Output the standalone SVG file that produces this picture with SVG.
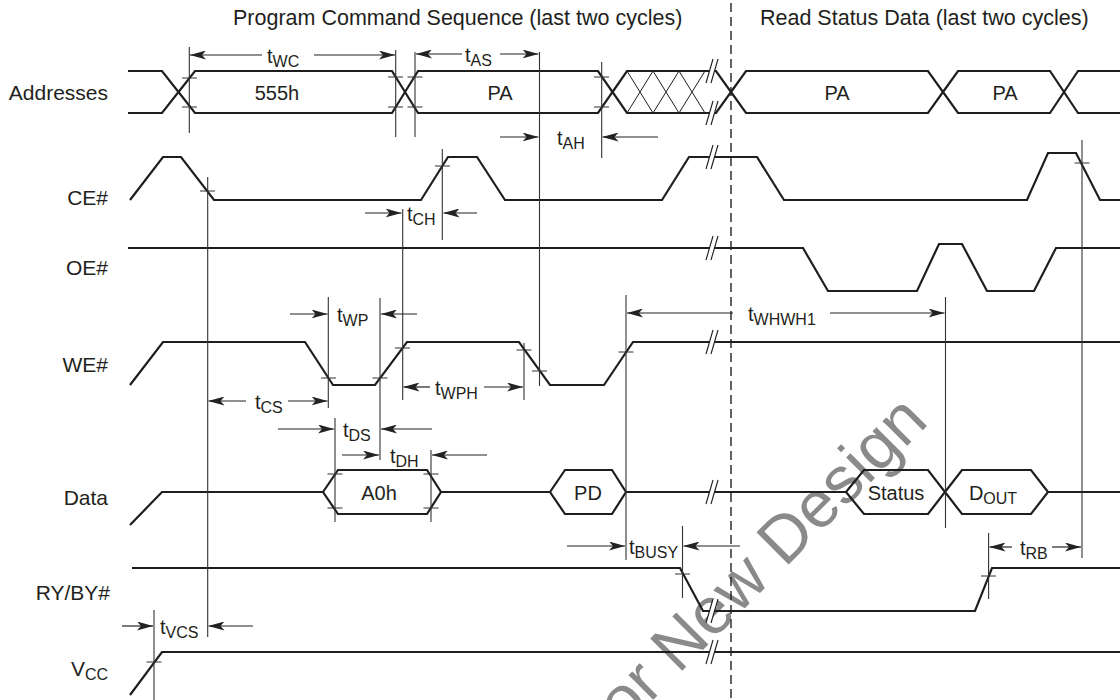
<svg xmlns="http://www.w3.org/2000/svg" width="1120" height="700" viewBox="0 0 1120 700">
<style>
.w{fill:none;stroke:#1e1e1e;stroke-width:2.2;stroke-linejoin:miter}
.g{fill:none;stroke:#333;stroke-width:1.1}
.h{fill:none;stroke:#1e1e1e;stroke-width:1}
.a{stroke:#222;stroke-width:1.2;marker-end:url(#ah)}
.br{fill:#fff;stroke:none}
.bs{stroke:#1e1e1e;stroke-width:1.1}
text{font-family:"Liberation Sans",Arial,Helvetica,sans-serif;fill:#231f20}
.ttl{font-size:21.5px}
.lbl{font-size:21px;text-anchor:end}
.v{font-size:20px;text-anchor:middle}
.t{font-size:20px}
.s{font-size:16px}
.wm{font-size:66px;fill:#8a8a8a}
</style>
<defs>
<marker id="ah" viewBox="0 0 16 9" refX="16" refY="4.5" markerWidth="16" markerHeight="9" markerUnits="userSpaceOnUse" orient="auto"><path d="M0,0 L16,4.5 L0,9 L4,4.5 Z" fill="#222"/></marker>
<g id="brk"><path class="br" d="M706,12 L713,-12 L718,-12 L711,12 Z"/><line class="bs" x1="706" y1="12" x2="713" y2="-12"/><line class="bs" x1="711" y1="12" x2="718" y2="-12"/></g>
</defs>
<rect width="1120" height="700" fill="#fff"/>
<text class="wm" transform="translate(624,729) rotate(-45)">or New Design</text>

<g id="titles">
<text class="ttl" x="233" y="25">Program Command Sequence (last two cycles)</text>
<text class="ttl" x="760" y="25">Read Status Data (last two cycles)</text>
</g>
<line x1="731" y1="3" x2="731" y2="700" stroke="#222" stroke-width="1.4" stroke-dasharray="9 5"/>

<g id="sig-addresses">
<text class="lbl" x="108" y="100">Addresses</text>
<path class="w" d="M128,71 H162 L178.5,92 L162,113 H128"/>
<path class="w" d="M178.5,92 L195,71 H392 L405,92 L392,113 H195 Z"/>
<path class="w" d="M405,92 L418,71 H598 L612.5,92 L598,113 H418 Z"/>
<path class="w" d="M612.5,92 L627,71 H716 L731,92 L716,113 H627 Z"/>
<path class="h" d="M627,71 L653,113 M653,71 L679,113 M679,71 L705,113 M627,113 L653,71 M653,113 L679,71 M679,113 L705,71"/>
<path class="w" d="M731,92 L746,71 H928 L943,92 L928,113 H746 Z"/>
<path class="w" d="M943,92 L958,71 H1050 L1064,92 L1050,113 H958 Z"/>
<path class="w" d="M1064,92 L1078,71 H1120 M1064,92 L1078,113 H1120"/>
<use href="#brk" y="71"/><use href="#brk" y="113"/>
<text class="v" x="277" y="100">555h</text>
<text class="v" x="500" y="100">PA</text>
<text class="v" x="837" y="100">PA</text>
<text class="v" x="1005" y="100">PA</text>
</g>

<g id="sig-ce">
<text class="lbl" x="108" y="205">CE#</text>
<path class="w" d="M130,200 L163,157 H181 L214,200 H421 L448,157 H477 L505,200 H662 L689,157 H757 L784,200 H1027 L1048,153 H1076 L1100,200 H1120"/>
<use href="#brk" y="157"/>
</g>

<g id="sig-oe">
<text class="lbl" x="108" y="275">OE#</text>
<path class="w" d="M128,248 H803 L828,291 H917 L939,244 H962 L987,291 H1034 L1056,248 H1120"/>
<use href="#brk" y="248"/>
</g>

<g id="sig-we">
<text class="lbl" x="108" y="372">WE#</text>
<path class="w" d="M130,385 L163,342 H305 L333,385 H375 L407,342 H519 L550,385 H604 L633,342 H1120"/>
<use href="#brk" y="342"/>
</g>

<g id="sig-data">
<text class="lbl" x="108" y="505">Data</text>
<path class="w" d="M130,525 L162,492 H323 M441,492 H550 M626,492 H846 M1048,492 H1120"/>
<path class="w" d="M323,492 L338,470 H427 L441,492 L427,514 H338 Z"/>
<path class="w" d="M550,492 L565,470 H612 L626,492 L612,514 H565 Z"/>
<path class="w" d="M846,492 L864,470 H928 L945,492 L928,514 H864 Z"/>
<path class="w" d="M945,492 L962,470 H1031 L1048,492 L1031,514 H962 Z"/>
<use href="#brk" y="492"/>
<text class="v" x="379" y="500">A0h</text>
<text class="v" x="588" y="500">PD</text>
<text class="v" x="896" y="500">Status</text>
<text class="v" x="993" y="500">D<tspan class="s" dy="4">OUT</tspan></text>
</g>

<g id="sig-rb">
<text class="lbl" x="110" y="600">RY/BY#</text>
<path class="w" d="M132,568 H680 L703,611 H975 L992,568 H1120"/>
<use href="#brk" y="611"/>
</g>

<g id="sig-vcc">
<text class="lbl" x="108" y="676">V<tspan class="s" dy="4">CC</tspan></text>
<path class="w" d="M130,695 L162,652 H1120"/>
<use href="#brk" y="652"/>
</g>

<g id="connectors">
<path class="g" d="M189.3,47 V133 M395.7,50 V137 M415,52 V137 M539.5,52 V386 M601.7,62 V158 M207.7,177 V637 M402.7,209 V400 M442.3,149 V240 M328.3,297 V408 M380,298 V460 M335,418 V522 M431,450 V522 M524,343 V400 M626,295 V560 M945.5,297 V528 M1082,140 V558 M682.5,526 V598 M988.6,533 V599 M154,610 V700"/>
<path class="g" d="M182,78 h15 M182,107 h15 M388,77 h15 M388,107 h15 M407.5,77 h15 M407.5,107 h15 M594,77 h15 M594,107 h15 M200,191 h15 M435,166 h15 M1074.5,163 h15 M321,378 h15 M372.5,378 h15 M395,348 h15 M516.5,350 h15 M532,371 h15 M618.5,352 h15 M327.5,474 h15 M327.5,508 h15 M423.5,474 h15 M423.5,508 h15 M675,574 h15 M981,576 h15 M146.5,662 h15"/>
<line class="a" x1="262" y1="55" x2="190" y2="55"/><line class="a" x1="314" y1="55" x2="395" y2="55"/>
<text class="t" x="267" y="63">t<tspan class="s" dy="4">WC</tspan></text>
<line class="a" x1="462" y1="54" x2="416" y2="54"/><line class="a" x1="500" y1="54" x2="538.5" y2="54"/>
<text class="t" x="465" y="62">t<tspan class="s" dy="4">AS</tspan></text>
<line class="a" x1="500" y1="137" x2="538.5" y2="137"/><line class="a" x1="658" y1="137" x2="602.5" y2="137"/>
<text class="t" x="557" y="145">t<tspan class="s" dy="4">AH</tspan></text>
<line class="a" x1="365" y1="213" x2="401.5" y2="213"/><line class="a" x1="477" y1="213" x2="443.5" y2="213"/>
<text class="t" x="407" y="221">t<tspan class="s" dy="4">CH</tspan></text>
<line class="a" x1="290" y1="314" x2="327.5" y2="314"/><line class="a" x1="417" y1="314" x2="381" y2="314"/>
<text class="t" x="337" y="322">t<tspan class="s" dy="4">WP</tspan></text>
<line class="a" x1="733" y1="313" x2="627" y2="313"/><line class="a" x1="830" y1="313" x2="944.5" y2="313"/>
<text class="t" x="748" y="321">t<tspan class="s" dy="4">WHWH1</tspan></text>
<line class="a" x1="246" y1="401" x2="208.5" y2="401"/><line class="a" x1="288" y1="401" x2="327.5" y2="401"/>
<text class="t" x="255" y="409">t<tspan class="s" dy="4">CS</tspan></text>
<line class="a" x1="430" y1="387" x2="403.5" y2="387"/><line class="a" x1="484" y1="387" x2="523" y2="387"/>
<text class="t" x="435" y="395">t<tspan class="s" dy="4">WPH</tspan></text>
<line class="a" x1="278" y1="429" x2="334" y2="429"/><line class="a" x1="432" y1="429" x2="381" y2="429"/>
<text class="t" x="343" y="437">t<tspan class="s" dy="4">DS</tspan></text>
<line class="a" x1="342" y1="455" x2="379" y2="455"/><line class="a" x1="487" y1="455" x2="432" y2="455"/>
<text class="t" x="390" y="463">t<tspan class="s" dy="4">DH</tspan></text>
<line class="a" x1="567" y1="546" x2="625" y2="546"/><line class="a" x1="740" y1="546" x2="683.5" y2="546"/>
<text class="t" x="629" y="554">t<tspan class="s" dy="4">BUSY</tspan></text>
<line class="a" x1="1012" y1="547" x2="989.5" y2="547"/><line class="a" x1="1052" y1="547" x2="1081" y2="547"/>
<text class="t" x="1020" y="555">t<tspan class="s" dy="4">RB</tspan></text>
<line class="a" x1="122" y1="626" x2="153" y2="626"/><line class="a" x1="253" y1="626" x2="208.5" y2="626"/>
<text class="t" x="160" y="634">t<tspan class="s" dy="4">VCS</tspan></text>
</g>
</svg>
